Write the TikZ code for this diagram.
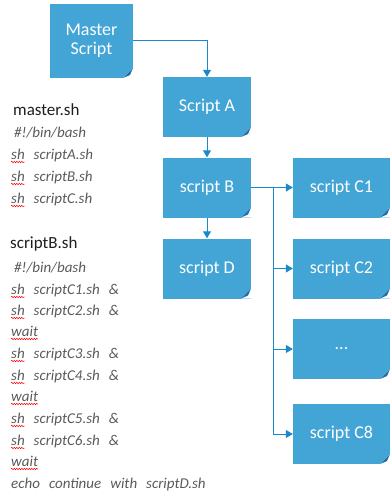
\documentclass[tikz,border=0pt]{standalone}
\usepackage{fontspec}
\setmainfont{Carlito}
\usetikzlibrary{arrows.meta,decorations.pathmorphing}
\definecolor{boxblue}{RGB}{66,165,214}
\definecolor{folddark}{RGB}{30,110,170}
\definecolor{arrowblue}{RGB}{28,136,204}
\definecolor{headtxt}{RGB}{30,30,30}
\definecolor{codetxt}{RGB}{90,90,90}
\newcommand{\gap}{\hspace{0.6em}}
\newcommand{\codefont}{\fontsize{15}{17}\selectfont\itshape}
\newlength{\shw}
\newlength{\waitw}
\tikzset{
  docbox/.style={rectangle, fill=boxblue, text=white, inner sep=0pt,
    minimum width=88pt, minimum height=60pt, align=center,
    font=\fontsize{18}{21}\selectfont,
    path picture={
      \fill[white] (path picture bounding box.south east) ++(-10pt,0pt) -- ++(10pt,0pt) -- ++(0pt,10pt) -- cycle;
      \fill[folddark] (path picture bounding box.south east) ++(-10pt,0pt) -- ++(10pt,10pt) -- ++(-3pt,-7pt) -- cycle;
    }},
  cbox/.style={docbox, minimum width=97pt},
  arr/.style={draw=arrowblue, line width=1pt, -{Triangle[length=7pt,width=8pt]}},
  head/.style={anchor=base west, inner sep=0pt, text=headtxt, font=\fontsize{17}{20}\selectfont},
  code/.style={anchor=base west, inner sep=0pt, text=codetxt, font=\codefont},
  wave/.style={draw=red, line width=0.5pt, decorate, decoration={snake, amplitude=0.7pt, segment length=2.5pt}},
}
\begin{document}
\settowidth{\shw}{\codefont sh}%
\settowidth{\waitw}{\codefont wait}%
\begin{tikzpicture}[x=1pt,y=-1pt]
\useasboundingbox (0,0) rectangle (390,495);
% boxes
\node[docbox, minimum width=83pt, minimum height=74pt] (M) at (91.5,41) {Master\\[-2pt]Script};
\node[docbox] (A) at (207,107) {Script A};
\node[docbox] (B) at (207,187.5) {script B};
\node[docbox] (D) at (207,268.5) {script D};
\node[cbox] (C1) at (341.5,187.5) {script C1};
\node[cbox] (C2) at (341.5,268.5) {script C2};
\node[cbox] (C3) at (341.5,349) {...};
\node[cbox] (C8) at (341.5,434) {script C8};
% connectors
\draw[arr] (M.east) -| (A.north);
\draw[arr] (A.south) -- (B.north);
\draw[arr] (B.south) -- (D.north);
\draw[arr] (B.east) -- (C1.west);
\coordinate (bus) at (273,187.5);
\draw[arr] (bus) |- (C2.west);
\draw[arr] (bus) |- (C3.west);
\draw[arr] (bus) |- (C8.west);
% master.sh text
\node[head] (h1) at (13,115) {master.sh};
\node[code] (m1) at (14,137) {\#!/bin/bash};
\node[code] (m2) at (11,159) {sh\gap scriptA.sh};
\node[code] (m3) at (11,181) {sh\gap scriptB.sh};
\node[code] (m4) at (11,203) {sh\gap scriptC.sh};
% scriptB.sh text
\node[head] (h2) at (10,248) {scriptB.sh};
\node[code] (b1) at (14,272) {\#!/bin/bash};
\node[code] (b2) at (11,294) {sh\gap scriptC1.sh\gap \&};
\node[code] (b3) at (11,315) {sh\gap scriptC2.sh\gap \&};
\node[code] (b4) at (11,336) {wait};
\node[code] (b5) at (11,358) {sh\gap scriptC3.sh\gap \&};
\node[code] (b6) at (11,380) {sh\gap scriptC4.sh\gap \&};
\node[code] (b7) at (11,401) {wait};
\node[code] (b8) at (11,423) {sh\gap scriptC5.sh\gap \&};
\node[code] (b9) at (11,445) {sh\gap scriptC6.sh\gap \&};
\node[code] (b10) at (11,466) {wait};
\node[code] (b11) at (11,488) {echo\gap continue\gap with\gap scriptD.sh};
% spell-check underlines
\foreach \n in {m2,m3,m4,b2,b3,b5,b6,b8,b9}
  \draw[wave] ([yshift=-3pt]\n.base west) -- ++(\shw,0pt);
\foreach \n in {b4,b7,b10}
  \draw[wave] ([yshift=-3pt]\n.base west) -- ++(\waitw,0pt);
\end{tikzpicture}
\end{document}
